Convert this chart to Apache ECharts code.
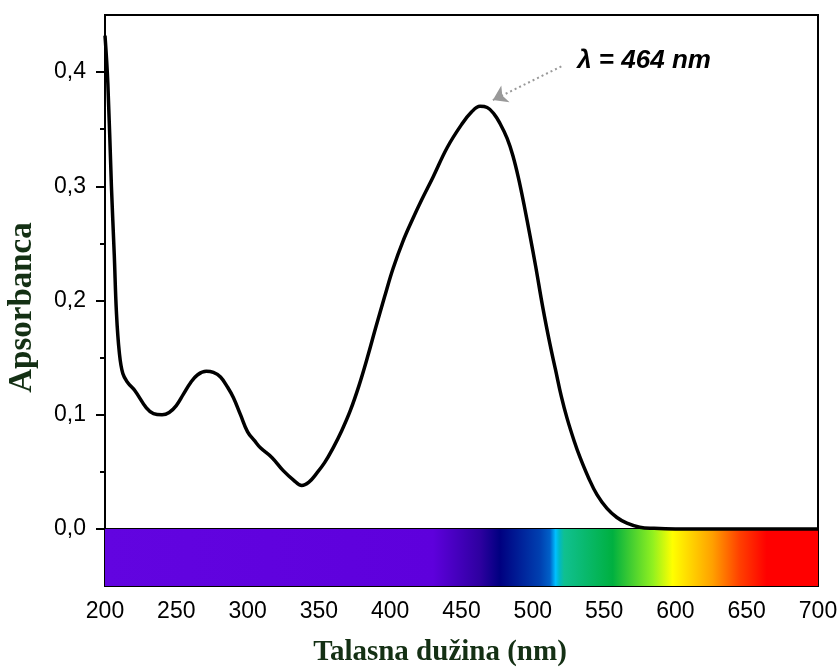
<!DOCTYPE html>
<html>
<head>
<meta charset="utf-8">
<script src="https://cdn.jsdelivr.net/npm/echarts@6/dist/echarts.min.js"></script>
<style>
  html, body { margin: 0; padding: 0; background: #fff; }
  #chart { width: 838px; height: 668px; }
</style>
</head>
<body>
<div id="chart"></div>
<script>
// absorption spectrum
let wavelength = [200, 202, 204.5, 206.5, 208, 210, 212.5, 216, 221, 229, 234, 240, 245, 250, 255, 260, 265, 271, 276, 281, 286, 290, 295, 300, 305, 309, 317, 325, 332, 338, 343, 348, 354, 360, 366, 372, 378, 384, 390, 396, 402, 409, 416, 422, 430, 440, 450, 457, 463, 468, 473, 477, 482, 486, 490, 494, 498, 502, 507, 512, 516, 520, 524, 529, 533, 539, 545, 552, 559, 566, 575, 585, 600, 650, 700]
let absorbance = [0.432, 0.39, 0.30, 0.24, 0.19, 0.155, 0.136, 0.128, 0.121, 0.106, 0.101, 0.100, 0.102, 0.108, 0.118, 0.128, 0.135, 0.138, 0.137, 0.133, 0.124, 0.115, 0.100, 0.085, 0.077, 0.071, 0.0626, 0.051, 0.043, 0.038, 0.041, 0.048, 0.058, 0.071, 0.086, 0.1035, 0.125, 0.150, 0.177, 0.203, 0.228, 0.252, 0.272, 0.288, 0.308, 0.334, 0.354, 0.365, 0.370, 0.369, 0.363, 0.355, 0.342, 0.327, 0.307, 0.283, 0.257, 0.230, 0.194, 0.162, 0.139, 0.116, 0.097, 0.077, 0.063, 0.045, 0.030, 0.018, 0.010, 0.005, 0.0015, 0.0005, 0, 0, 0]

// visible spectrum bar
let specWl = [200, 430, 463, 477, 505, 512, 516, 518.5, 522, 556, 584, 598, 626, 645, 664, 700]
let specColors = ['#6204e0', '#5e00dc', '#2e00a0', '#000080', '#0040b0', '#0060c8', '#00c0ff', '#00b8c8', '#10c090', '#00b040', '#90f020', '#ffff00', '#ffa000', '#ff4000', '#ff0000', '#ff0000']

let majorY = [0, 0.1, 0.2, 0.3, 0.4]
let minorY = [0.05, 0.15, 0.25, 0.35]

let peakLabel = 'λ = 464 nm'

let chart = echarts.init(document.getElementById('chart'))

let stops = specWl.map((w, i) => ({ offset: (w - 200) / 500, color: specColors[i] }))

let titleColor = '#143014'

chart.setOption({
    animation: false,
    grid: {
        left: 105,
        right: 20,
        top: 15,
        bottom: 82,
        outerBoundsMode: 'none',
        show: true,
        borderColor: '#000',
        borderWidth: 2
    },
    xAxis: {
        type: 'value',
        min: 200,
        max: 700,
        interval: 50,
        name: 'Talasna dužina (nm)',
        nameLocation: 'middle',
        nameGap: 52,
        nameTextStyle: {
            fontFamily: 'Liberation Serif',
            fontWeight: 'bold',
            fontSize: 29,
            color: titleColor,
            padding: [0, 43, 0, 0]
        },
        axisLine: { lineStyle: { color: '#000', width: 2 } },
        axisTick: { length: 11, lineStyle: { color: '#000', width: 2 } },
        minorTick: { show: true, splitNumber: 2, length: 6, lineStyle: { color: '#000', width: 2 } },
        axisLabel: { fontFamily: 'Liberation Sans', fontSize: 23, color: '#000', margin: 14 },
        splitLine: { show: false }
    },
    yAxis: [{
        type: 'value',
        min: -0.05,
        max: 0.45,
        name: 'Apsorbanca',
        nameLocation: 'middle',
        nameRotate: 90,
        nameGap: 66,
        nameTextStyle: {
            fontFamily: 'Liberation Serif',
            fontWeight: 'bold',
            fontSize: 33,
            color: titleColor,
            padding: [0, 14, 0, 0]
        },
        axisLine: { show: true, lineStyle: { color: '#000', width: 2 } },
        axisTick: { show: true, length: 9, customValues: majorY, lineStyle: { color: '#000', width: 2 } },
        axisLabel: {
            customValues: majorY,
            fontFamily: 'Liberation Sans',
            fontSize: 23,
            color: '#000',
            margin: 19,
            formatter: v => v.toFixed(1).replace('.', ',')
        },
        splitLine: { show: false }
    }, {
        type: 'value',
        min: -0.05,
        max: 0.45,
        position: 'left',
        axisLine: { show: false },
        axisTick: { show: true, length: 5, customValues: minorY, lineStyle: { color: '#000', width: 2 } },
        axisLabel: { show: false },
        splitLine: { show: false }
    }],
    series: [{
        type: 'line',
        data: wavelength.map((w, i) => [w, absorbance[i]]),
        showSymbol: false,
        smooth: 0.4,
        z: 5,
        lineStyle: { color: '#000', width: 3.5 },
        markArea: {
            silent: true,
            itemStyle: { color: new echarts.graphic.LinearGradient(0, 0, 1, 0, stops) },
            data: [[{ coord: [200, -0.05] }, { coord: [700, 0] }]]
        },
        markLine: {
            silent: true,
            symbol: ['none', 'arrow'],
            symbolSize: 14,
            label: { show: false },
            lineStyle: { color: '#999', type: [2, 3], width: 2 },
            data: [[{ coord: [520, 0.405] }, { coord: [472, 0.3755] }]]
        },
        markPoint: {
            silent: true,
            symbol: 'circle',
            symbolSize: 0,
            label: {
                show: true,
                position: 'inside',
                formatter: peakLabel,
                fontFamily: 'Liberation Sans',
                fontSize: 26,
                fontStyle: 'italic',
                fontWeight: 'bold',
                color: '#000'
            },
            data: [{ coord: [578, 0.41] }]
        }
    }]
})
</script>
</body>
</html>
